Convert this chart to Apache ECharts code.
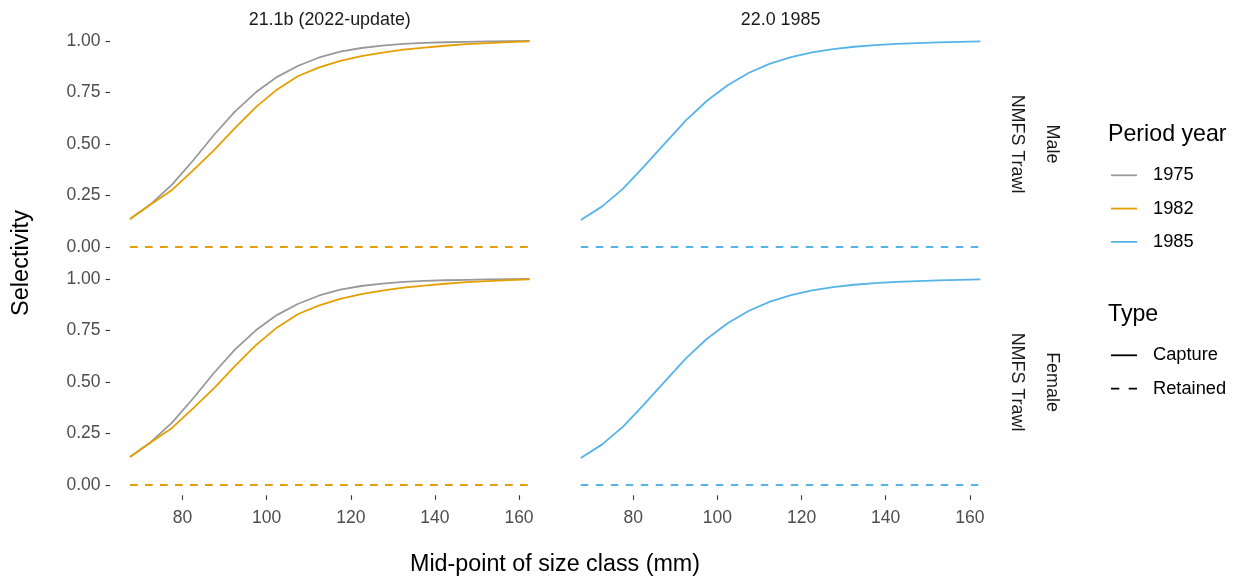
<!DOCTYPE html>
<html>
<head>
<meta charset="utf-8">
<script src="https://cdn.jsdelivr.net/npm/echarts@6/dist/echarts.min.js"></script>
<style>
html,body{margin:0;padding:0;background:#fff;}
#chart{width:1238px;height:582px;}
</style>
</head>
<body>
<div id="chart"></div>
<script>
// ---- data ----
var sizes = [67.5, 72.5, 77.5, 82.5, 87.5, 92.5, 97.5, 102.5, 107.5, 112.5, 117.5, 122.5, 127.5, 132.5, 137.5, 142.5, 147.5, 152.5, 157.5, 162.5];
var xTicks = [80, 100, 120, 140, 160];
var yTicks = [0, 0.25, 0.5, 0.75, 1];
var colLabels = ['21.1b (2022-update)', '22.0 1985'];
var rowLabels = ['Male', 'Female'];
var fleetLabel = 'NMFS Trawl';
var years = ['1975', '1982', '1985'];
var types = ['Capture', 'Retained'];

var maleCapture1975 = [0.136, 0.209, 0.303, 0.420, 0.545, 0.658, 0.752, 0.826, 0.880, 0.920, 0.948, 0.966, 0.978, 0.986, 0.991, 0.994, 0.996, 0.998, 0.999, 1.000];
var maleCapture1982 = [0.136, 0.207, 0.277, 0.372, 0.470, 0.578, 0.680, 0.765, 0.830, 0.872, 0.903, 0.927, 0.944, 0.958, 0.968, 0.977, 0.985, 0.990, 0.995, 0.998];
var maleCapture1985 = [0.131, 0.196, 0.282, 0.390, 0.503, 0.615, 0.710, 0.786, 0.846, 0.890, 0.922, 0.945, 0.961, 0.972, 0.980, 0.986, 0.990, 0.993, 0.996, 0.998];
var femaleCapture1975 = [0.136, 0.209, 0.303, 0.420, 0.545, 0.658, 0.752, 0.826, 0.880, 0.920, 0.948, 0.966, 0.978, 0.986, 0.991, 0.994, 0.996, 0.998, 0.999, 1.000];
var femaleCapture1982 = [0.136, 0.207, 0.277, 0.372, 0.470, 0.578, 0.680, 0.765, 0.830, 0.872, 0.903, 0.927, 0.944, 0.958, 0.968, 0.977, 0.985, 0.990, 0.995, 0.998];
var femaleCapture1985 = [0.131, 0.196, 0.282, 0.390, 0.503, 0.615, 0.710, 0.786, 0.846, 0.890, 0.922, 0.945, 0.961, 0.972, 0.980, 0.986, 0.990, 0.993, 0.996, 0.998];
var retainedZero = [0, 0, 0, 0, 0, 0, 0, 0, 0, 0, 0, 0, 0, 0, 0, 0, 0, 0, 0, 0];

// ---- styling ----
var FONT = 'Liberation Sans, Arial, sans-serif';
var colors = {'1975': '#999999', '1982': '#E69F00', '1985': '#56B4E9', 'Capture': '#000000', 'Retained': '#000000'};
var LW = 1.8;
var DASH = [7.5, 7.5];

var panelW = 439.5, panelH = 226.6;
var lefts = [110, 560.8];
var tops = [30.7, 268.7];

function pairs(arr) { return sizes.map(function (s, i) { return [s, arr[i]]; }); }

var grids = [], xAxes = [], yAxes = [], series = [];
for (var r = 0; r < 2; r++) {
  for (var c = 0; c < 2; c++) {
    var gi = r * 2 + c;
    grids.push({left: lefts[c], top: tops[r], width: panelW, height: panelH, containLabel: false});
    xAxes.push({
      type: 'value', gridIndex: gi, min: 62.75, max: 167.25, position: 'bottom',
      axisLine: {show: false, onZero: false}, splitLine: {show: false},
      axisTick: {show: r === 1, customValues: xTicks, length: 4.5, lineStyle: {color: '#333333', width: 1.1}},
      axisLabel: {show: r === 1, customValues: xTicks, margin: 13.5, color: '#4D4D4D', fontSize: 17.5, fontFamily: FONT}
    });
    yAxes.push({
      type: 'value', gridIndex: gi, min: -0.05, max: 1.05, position: 'left',
      axisLine: {show: false, onZero: false}, splitLine: {show: false},
      axisTick: {show: c === 0, customValues: yTicks, length: 4.5, lineStyle: {color: '#333333', width: 1.1}},
      axisLabel: {show: c === 0, customValues: yTicks, margin: 9.5, color: '#4D4D4D', fontSize: 17.5, fontFamily: FONT,
        formatter: function (v) { return v.toFixed(2); }}
    });
  }
}

function addLine(gi, name, arr, dashed) {
  series.push({
    type: 'line', name: name, xAxisIndex: gi, yAxisIndex: gi, data: pairs(arr),
    symbol: 'none', silent: true, animation: false,
    lineStyle: {color: colors[name], width: LW, type: dashed ? DASH : 'solid'},
    itemStyle: {color: colors[name]}
  });
}

var capture = [
  [[ '1975', maleCapture1975 ], [ '1982', maleCapture1982 ]],
  [[ '1985', maleCapture1985 ]],
  [[ '1975', femaleCapture1975 ], [ '1982', femaleCapture1982 ]],
  [[ '1985', femaleCapture1985 ]]
];
for (var g = 0; g < 4; g++) {
  capture[g].forEach(function (p) { addLine(g, p[0], p[1], false); });
  capture[g].forEach(function (p) { addLine(g, p[0], retainedZero, true); });
}
// type legend helper series (no data)
series.push({type: 'line', name: 'Capture', xAxisIndex: 0, yAxisIndex: 0, data: [], symbol: 'none',
  lineStyle: {color: '#000000', width: LW}, itemStyle: {color: '#000000'}});
series.push({type: 'line', name: 'Retained', xAxisIndex: 0, yAxisIndex: 0, data: [], symbol: 'none',
  lineStyle: {color: '#000000', width: LW, type: DASH}, itemStyle: {color: '#000000'}});

var SOLID_ICON = 'rect';
var DASH_ICON = 'path://M0,0h8.3v1.8h-8.3z M17.7,0h8.3v1.8h-8.3z';

function legendItems(names) {
  return names.map(function (n) {
    return {name: n, icon: n === 'Retained' ? DASH_ICON : SOLID_ICON,
      itemStyle: {color: colors[n], borderWidth: 0}};
  });
}

var legendCommon = {
  orient: 'vertical', left: 1111, padding: 0, itemWidth: 26, itemHeight: 1.8, itemGap: 15.3,
  selectedMode: false, symbolKeepAspect: false,
  textStyle: {fontSize: 18.3, lineHeight: 14, fontFamily: FONT, color: '#000000', padding: [0, 0, 0, 11]}
};

var graphics = [];
function txt(x, y, s, size, rot, color) {
  graphics.push({type: 'text', x: x, y: y, rotation: rot || 0, silent: true,
    style: {text: s, fontSize: size, fontFamily: FONT, fill: color || '#000000', textAlign: 'center', textVerticalAlign: 'middle'}});
}
// strip labels
txt(lefts[0] + panelW / 2, 20, colLabels[0], 17.9, 0, '#1A1A1A');
txt(lefts[1] + panelW / 2, 20, colLabels[1], 17.9, 0, '#1A1A1A');
txt(1017, tops[0] + panelH / 2, fleetLabel, 17.9, -Math.PI / 2, '#1A1A1A');
txt(1051.5, tops[0] + panelH / 2, rowLabels[0], 17.9, -Math.PI / 2, '#1A1A1A');
txt(1017, tops[1] + panelH / 2, fleetLabel, 17.9, -Math.PI / 2, '#1A1A1A');
txt(1051.5, tops[1] + panelH / 2, rowLabels[1], 17.9, -Math.PI / 2, '#1A1A1A');
// axis titles
txt(22, 263, 'Selectivity', 23.5, Math.PI / 2);
txt(555, 565, 'Mid-point of size class (mm)', 23.3, 0);
// legend titles
graphics.push({type: 'text', x: 1108, y: 135, silent: true, style: {text: 'Period year', fontSize: 23.2, fontFamily: FONT, fill: '#000', textAlign: 'left', textVerticalAlign: 'middle'}});
graphics.push({type: 'text', x: 1108, y: 315, silent: true, style: {text: 'Type', fontSize: 23.2, fontFamily: FONT, fill: '#000', textAlign: 'left', textVerticalAlign: 'middle'}});

var option = {
  backgroundColor: '#ffffff',
  animation: false,
  grid: grids, xAxis: xAxes, yAxis: yAxes, series: series,
  legend: [
    Object.assign({}, legendCommon, {top: 166.3, data: legendItems(years)}),
    Object.assign({}, legendCommon, {top: 346.3, data: legendItems(types)})
  ],
  graphic: graphics
};

var chart = echarts.init(document.getElementById('chart'), null, {renderer: 'canvas'});
chart.setOption(option);
</script>
</body>
</html>
